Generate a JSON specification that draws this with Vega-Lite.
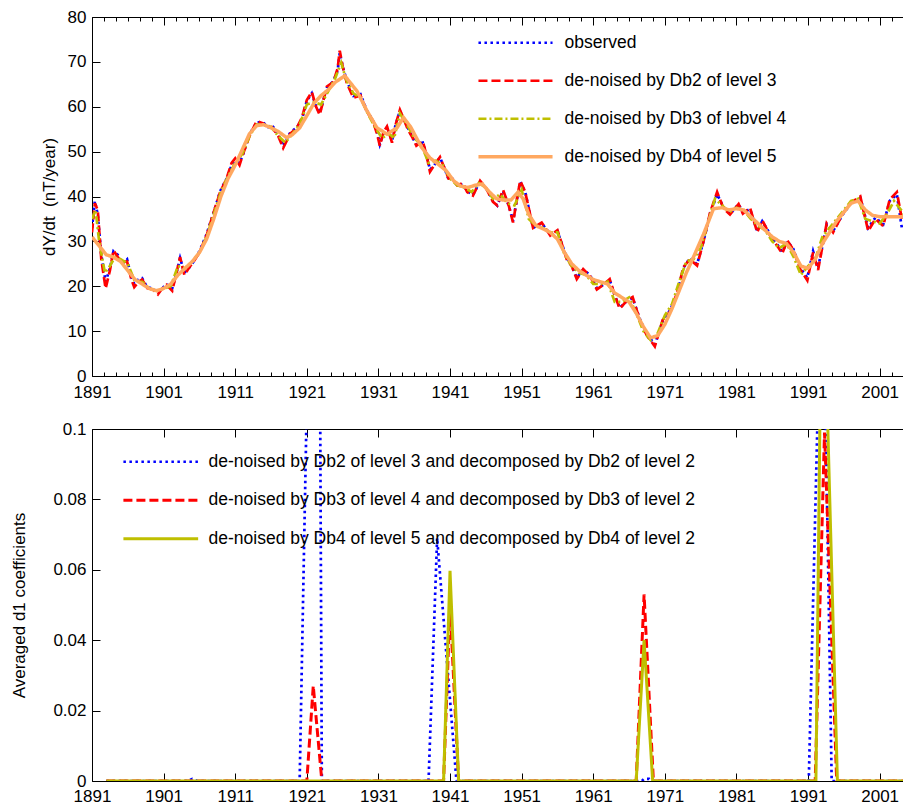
{
"$schema": "https://vega.github.io/schema/vega-lite/v6.json",
"background": "white",
"padding": {"left": 10, "top": 7, "right": 0, "bottom": 0},
"spacing": 14,
"config": {
  "view": {"stroke": "black", "strokeWidth": 1},
  "axis": {"labelFont": "Liberation Sans", "labelFontSize": 17, "titleFont": "Liberation Sans", "titleFontSize": 17, "titleFontWeight": "normal", "labelColor": "black", "titleColor": "black", "tickColor": "black", "domain": false, "grid": false},
  "legend": {"labelFont": "Liberation Sans", "labelFontSize": 17.5, "labelColor": "black", "labelLimit": 900}
},
"datasets": {
"top": [
{"s":"observed","year":1891.0,"v":33},{"s":"observed","year":1891.4,"v":39},{"s":"observed","year":1891.8,"v":36},{"s":"observed","year":1892.3,"v":27},{"s":"observed","year":1892.9,"v":21},{"s":"observed","year":1893.5,"v":24},{"s":"observed","year":1894.0,"v":27.8},{"s":"observed","year":1894.6,"v":27},{"s":"observed","year":1895.2,"v":25},{"s":"observed","year":1895.9,"v":26},{"s":"observed","year":1896.5,"v":22},{"s":"observed","year":1896.9,"v":20.5},{"s":"observed","year":1897.5,"v":21.5},{"s":"observed","year":1898.0,"v":21.8},{"s":"observed","year":1898.7,"v":19.8},{"s":"observed","year":1899.5,"v":19.5},{"s":"observed","year":1900.2,"v":18.5},{"s":"observed","year":1900.8,"v":19.5},{"s":"observed","year":1901.4,"v":20.5},{"s":"observed","year":1902.2,"v":19.5},{"s":"observed","year":1902.8,"v":23},{"s":"observed","year":1903.3,"v":26.3},{"s":"observed","year":1903.9,"v":23},{"s":"observed","year":1904.5,"v":24},{"s":"observed","year":1905.2,"v":25.5},{"s":"observed","year":1906.0,"v":27.8},{"s":"observed","year":1907.0,"v":31.6},{"s":"observed","year":1907.9,"v":36},{"s":"observed","year":1908.9,"v":41.2},{"s":"observed","year":1909.8,"v":44},{"s":"observed","year":1910.5,"v":47},{"s":"observed","year":1911.0,"v":48},{"s":"observed","year":1911.6,"v":47.5},{"s":"observed","year":1912.1,"v":49.4},{"s":"observed","year":1913.0,"v":53.9},{"s":"observed","year":1914.0,"v":56.5},{"s":"observed","year":1914.9,"v":56.5},{"s":"observed","year":1915.6,"v":55.5},{"s":"observed","year":1916.1,"v":56},{"s":"observed","year":1917.0,"v":53.9},{"s":"observed","year":1917.7,"v":51.2},{"s":"observed","year":1918.7,"v":54.3},{"s":"observed","year":1919.6,"v":55.4},{"s":"observed","year":1920.3,"v":57},{"s":"observed","year":1921.0,"v":61.3},{"s":"observed","year":1921.7,"v":63},{"s":"observed","year":1922.3,"v":60},{"s":"observed","year":1922.8,"v":58.6},{"s":"observed","year":1923.8,"v":64.2},{"s":"observed","year":1924.7,"v":65.7},{"s":"observed","year":1925.3,"v":68},{"s":"observed","year":1925.6,"v":72},{"s":"observed","year":1926.0,"v":69},{"s":"observed","year":1926.6,"v":65.7},{"s":"observed","year":1927.5,"v":62.4},{"s":"observed","year":1928.5,"v":62.8},{"s":"observed","year":1929.4,"v":59.1},{"s":"observed","year":1930.2,"v":57},{"s":"observed","year":1930.8,"v":54.6},{"s":"observed","year":1931.2,"v":51.6},{"s":"observed","year":1931.7,"v":54},{"s":"observed","year":1932.2,"v":55.4},{"s":"observed","year":1932.9,"v":52.4},{"s":"observed","year":1933.4,"v":56},{"s":"observed","year":1934.0,"v":59.1},{"s":"observed","year":1934.6,"v":57},{"s":"observed","year":1935.1,"v":55.4},{"s":"observed","year":1935.8,"v":53},{"s":"observed","year":1936.3,"v":51.6},{"s":"observed","year":1937.2,"v":52},{"s":"observed","year":1937.7,"v":49.5},{"s":"observed","year":1938.2,"v":46},{"s":"observed","year":1938.8,"v":47},{"s":"observed","year":1939.6,"v":48.7},{"s":"observed","year":1940.3,"v":46},{"s":"observed","year":1940.8,"v":43.8},{"s":"observed","year":1941.3,"v":44},{"s":"observed","year":1942.0,"v":42.5},{"s":"observed","year":1942.8,"v":42.7},{"s":"observed","year":1943.4,"v":41.2},{"s":"observed","year":1944.2,"v":40.4},{"s":"observed","year":1945.2,"v":43.3},{"s":"observed","year":1946.0,"v":42},{"s":"observed","year":1947.0,"v":39},{"s":"observed","year":1947.6,"v":38},{"s":"observed","year":1948.4,"v":41.2},{"s":"observed","year":1949.2,"v":38},{"s":"observed","year":1949.8,"v":34.5},{"s":"observed","year":1950.3,"v":39},{"s":"observed","year":1950.8,"v":43.3},{"s":"observed","year":1951.5,"v":41},{"s":"observed","year":1952.6,"v":33},{"s":"observed","year":1953.8,"v":34},{"s":"observed","year":1955.0,"v":31.6},{"s":"observed","year":1956.0,"v":32.3},{"s":"observed","year":1957.3,"v":26.3},{"s":"observed","year":1958.0,"v":24.5},{"s":"observed","year":1958.7,"v":21.9},{"s":"observed","year":1959.6,"v":23.7},{"s":"observed","year":1960.5,"v":22.6},{"s":"observed","year":1961.5,"v":19.6},{"s":"observed","year":1962.4,"v":20.3},{"s":"observed","year":1963.3,"v":21.4},{"s":"observed","year":1964.0,"v":18},{"s":"observed","year":1964.7,"v":15.2},{"s":"observed","year":1965.7,"v":16.7},{"s":"observed","year":1966.5,"v":17.4},{"s":"observed","year":1967.6,"v":12.3},{"s":"observed","year":1968.5,"v":9.3},{"s":"observed","year":1969.6,"v":7},{"s":"observed","year":1970.7,"v":12.3},{"s":"observed","year":1971.7,"v":14.6},{"s":"observed","year":1972.7,"v":18.2},{"s":"observed","year":1973.6,"v":24.1},{"s":"observed","year":1974.5,"v":26.3},{"s":"observed","year":1975.5,"v":24.9},{"s":"observed","year":1976.4,"v":30},{"s":"observed","year":1977.3,"v":36},{"s":"observed","year":1978.3,"v":40.5},{"s":"observed","year":1979.2,"v":37.6},{"s":"observed","year":1980.1,"v":36.1},{"s":"observed","year":1981.3,"v":38.3},{"s":"observed","year":1981.9,"v":36.4},{"s":"observed","year":1982.9,"v":37.2},{"s":"observed","year":1983.9,"v":32.3},{"s":"observed","year":1984.6,"v":34.5},{"s":"observed","year":1985.7,"v":31.6},{"s":"observed","year":1986.7,"v":29.3},{"s":"observed","year":1987.4,"v":27.6},{"s":"observed","year":1988.1,"v":30},{"s":"observed","year":1988.9,"v":28.5},{"s":"observed","year":1989.9,"v":24.1},{"s":"observed","year":1990.9,"v":21.9},{"s":"observed","year":1991.7,"v":27.8},{"s":"observed","year":1992.4,"v":24.1},{"s":"observed","year":1993.6,"v":33.8},{"s":"observed","year":1994.5,"v":32.3},{"s":"observed","year":1995.9,"v":36.1},{"s":"observed","year":1996.9,"v":38.3},{"s":"observed","year":1998.3,"v":39.7},{"s":"observed","year":1999.4,"v":33},{"s":"observed","year":2000.4,"v":35.3},{"s":"observed","year":2001.5,"v":33.8},{"s":"observed","year":2002.4,"v":39},{"s":"observed","year":2003.4,"v":40.5},{"s":"observed","year":2004.1,"v":33},{"s":"observed","year":2004.4,"v":33},
{"s":"de-noised by Db2 of level 3","year":1891.0,"v":32},{"s":"de-noised by Db2 of level 3","year":1891.4,"v":38.5},{"s":"de-noised by Db2 of level 3","year":1891.8,"v":37},{"s":"de-noised by Db2 of level 3","year":1892.3,"v":26},{"s":"de-noised by Db2 of level 3","year":1892.9,"v":19.5},{"s":"de-noised by Db2 of level 3","year":1893.5,"v":23.5},{"s":"de-noised by Db2 of level 3","year":1894.0,"v":28},{"s":"de-noised by Db2 of level 3","year":1894.6,"v":26.5},{"s":"de-noised by Db2 of level 3","year":1895.2,"v":25.5},{"s":"de-noised by Db2 of level 3","year":1895.9,"v":25.5},{"s":"de-noised by Db2 of level 3","year":1896.5,"v":21.5},{"s":"de-noised by Db2 of level 3","year":1896.9,"v":19.8},{"s":"de-noised by Db2 of level 3","year":1897.5,"v":21},{"s":"de-noised by Db2 of level 3","year":1898.0,"v":21.5},{"s":"de-noised by Db2 of level 3","year":1898.7,"v":19.6},{"s":"de-noised by Db2 of level 3","year":1899.5,"v":19.3},{"s":"de-noised by Db2 of level 3","year":1900.2,"v":18.2},{"s":"de-noised by Db2 of level 3","year":1900.8,"v":19.5},{"s":"de-noised by Db2 of level 3","year":1901.4,"v":20.3},{"s":"de-noised by Db2 of level 3","year":1902.2,"v":19},{"s":"de-noised by Db2 of level 3","year":1902.8,"v":23},{"s":"de-noised by Db2 of level 3","year":1903.3,"v":26.5},{"s":"de-noised by Db2 of level 3","year":1903.9,"v":22.5},{"s":"de-noised by Db2 of level 3","year":1904.5,"v":24},{"s":"de-noised by Db2 of level 3","year":1905.2,"v":25.5},{"s":"de-noised by Db2 of level 3","year":1906.0,"v":27.5},{"s":"de-noised by Db2 of level 3","year":1907.0,"v":31.3},{"s":"de-noised by Db2 of level 3","year":1907.9,"v":36},{"s":"de-noised by Db2 of level 3","year":1908.9,"v":41},{"s":"de-noised by Db2 of level 3","year":1909.8,"v":44},{"s":"de-noised by Db2 of level 3","year":1910.5,"v":47.5},{"s":"de-noised by Db2 of level 3","year":1911.0,"v":48.5},{"s":"de-noised by Db2 of level 3","year":1911.6,"v":47},{"s":"de-noised by Db2 of level 3","year":1912.1,"v":49.5},{"s":"de-noised by Db2 of level 3","year":1913.0,"v":53.5},{"s":"de-noised by Db2 of level 3","year":1914.0,"v":56.8},{"s":"de-noised by Db2 of level 3","year":1914.9,"v":56.3},{"s":"de-noised by Db2 of level 3","year":1915.6,"v":55.3},{"s":"de-noised by Db2 of level 3","year":1916.1,"v":55.5},{"s":"de-noised by Db2 of level 3","year":1917.0,"v":53.5},{"s":"de-noised by Db2 of level 3","year":1917.7,"v":50.8},{"s":"de-noised by Db2 of level 3","year":1918.7,"v":54},{"s":"de-noised by Db2 of level 3","year":1919.6,"v":55.3},{"s":"de-noised by Db2 of level 3","year":1920.3,"v":57.5},{"s":"de-noised by Db2 of level 3","year":1921.0,"v":61.5},{"s":"de-noised by Db2 of level 3","year":1921.7,"v":63.3},{"s":"de-noised by Db2 of level 3","year":1922.3,"v":60},{"s":"de-noised by Db2 of level 3","year":1922.8,"v":58.2},{"s":"de-noised by Db2 of level 3","year":1923.8,"v":64.5},{"s":"de-noised by Db2 of level 3","year":1924.7,"v":65.5},{"s":"de-noised by Db2 of level 3","year":1925.3,"v":68.5},{"s":"de-noised by Db2 of level 3","year":1925.6,"v":72.5},{"s":"de-noised by Db2 of level 3","year":1926.0,"v":69},{"s":"de-noised by Db2 of level 3","year":1926.6,"v":65.2},{"s":"de-noised by Db2 of level 3","year":1927.5,"v":62},{"s":"de-noised by Db2 of level 3","year":1928.5,"v":62.5},{"s":"de-noised by Db2 of level 3","year":1929.4,"v":58.8},{"s":"de-noised by Db2 of level 3","year":1930.2,"v":57},{"s":"de-noised by Db2 of level 3","year":1930.8,"v":54},{"s":"de-noised by Db2 of level 3","year":1931.2,"v":51.3},{"s":"de-noised by Db2 of level 3","year":1931.7,"v":54.3},{"s":"de-noised by Db2 of level 3","year":1932.2,"v":55.6},{"s":"de-noised by Db2 of level 3","year":1932.9,"v":52},{"s":"de-noised by Db2 of level 3","year":1933.4,"v":56},{"s":"de-noised by Db2 of level 3","year":1934.0,"v":59.3},{"s":"de-noised by Db2 of level 3","year":1934.6,"v":57},{"s":"de-noised by Db2 of level 3","year":1935.1,"v":55},{"s":"de-noised by Db2 of level 3","year":1935.8,"v":53},{"s":"de-noised by Db2 of level 3","year":1936.3,"v":51.3},{"s":"de-noised by Db2 of level 3","year":1937.2,"v":52.3},{"s":"de-noised by Db2 of level 3","year":1937.7,"v":49.3},{"s":"de-noised by Db2 of level 3","year":1938.2,"v":45.5},{"s":"de-noised by Db2 of level 3","year":1938.8,"v":47},{"s":"de-noised by Db2 of level 3","year":1939.6,"v":48.8},{"s":"de-noised by Db2 of level 3","year":1940.3,"v":46},{"s":"de-noised by Db2 of level 3","year":1940.8,"v":44},{"s":"de-noised by Db2 of level 3","year":1941.3,"v":44},{"s":"de-noised by Db2 of level 3","year":1942.0,"v":42.5},{"s":"de-noised by Db2 of level 3","year":1942.8,"v":43},{"s":"de-noised by Db2 of level 3","year":1943.4,"v":41},{"s":"de-noised by Db2 of level 3","year":1944.2,"v":40.2},{"s":"de-noised by Db2 of level 3","year":1945.2,"v":43.5},{"s":"de-noised by Db2 of level 3","year":1946.0,"v":42},{"s":"de-noised by Db2 of level 3","year":1947.0,"v":38.8},{"s":"de-noised by Db2 of level 3","year":1947.6,"v":38},{"s":"de-noised by Db2 of level 3","year":1948.4,"v":41.5},{"s":"de-noised by Db2 of level 3","year":1949.2,"v":38},{"s":"de-noised by Db2 of level 3","year":1949.8,"v":34.2},{"s":"de-noised by Db2 of level 3","year":1950.3,"v":39},{"s":"de-noised by Db2 of level 3","year":1950.8,"v":43.5},{"s":"de-noised by Db2 of level 3","year":1951.5,"v":41},{"s":"de-noised by Db2 of level 3","year":1952.6,"v":33},{"s":"de-noised by Db2 of level 3","year":1953.8,"v":34.2},{"s":"de-noised by Db2 of level 3","year":1955.0,"v":31.3},{"s":"de-noised by Db2 of level 3","year":1956.0,"v":32.5},{"s":"de-noised by Db2 of level 3","year":1957.3,"v":26},{"s":"de-noised by Db2 of level 3","year":1958.0,"v":24.5},{"s":"de-noised by Db2 of level 3","year":1958.7,"v":21.6},{"s":"de-noised by Db2 of level 3","year":1959.6,"v":23.8},{"s":"de-noised by Db2 of level 3","year":1960.5,"v":22.4},{"s":"de-noised by Db2 of level 3","year":1961.5,"v":19.3},{"s":"de-noised by Db2 of level 3","year":1962.4,"v":20.3},{"s":"de-noised by Db2 of level 3","year":1963.3,"v":21.6},{"s":"de-noised by Db2 of level 3","year":1964.0,"v":18},{"s":"de-noised by Db2 of level 3","year":1964.7,"v":15},{"s":"de-noised by Db2 of level 3","year":1965.7,"v":16.8},{"s":"de-noised by Db2 of level 3","year":1966.5,"v":17.6},{"s":"de-noised by Db2 of level 3","year":1967.6,"v":12},{"s":"de-noised by Db2 of level 3","year":1968.5,"v":9},{"s":"de-noised by Db2 of level 3","year":1969.6,"v":6.6},{"s":"de-noised by Db2 of level 3","year":1970.7,"v":12.5},{"s":"de-noised by Db2 of level 3","year":1971.7,"v":14.3},{"s":"de-noised by Db2 of level 3","year":1972.7,"v":18.5},{"s":"de-noised by Db2 of level 3","year":1973.6,"v":24.3},{"s":"de-noised by Db2 of level 3","year":1974.5,"v":26},{"s":"de-noised by Db2 of level 3","year":1975.5,"v":24.6},{"s":"de-noised by Db2 of level 3","year":1976.4,"v":30},{"s":"de-noised by Db2 of level 3","year":1977.3,"v":36.3},{"s":"de-noised by Db2 of level 3","year":1978.3,"v":41},{"s":"de-noised by Db2 of level 3","year":1979.2,"v":37.3},{"s":"de-noised by Db2 of level 3","year":1980.1,"v":36},{"s":"de-noised by Db2 of level 3","year":1981.3,"v":38.3},{"s":"de-noised by Db2 of level 3","year":1981.9,"v":36.2},{"s":"de-noised by Db2 of level 3","year":1982.9,"v":37.5},{"s":"de-noised by Db2 of level 3","year":1983.9,"v":32},{"s":"de-noised by Db2 of level 3","year":1984.6,"v":34.7},{"s":"de-noised by Db2 of level 3","year":1985.7,"v":31.3},{"s":"de-noised by Db2 of level 3","year":1986.7,"v":29},{"s":"de-noised by Db2 of level 3","year":1987.4,"v":27.3},{"s":"de-noised by Db2 of level 3","year":1988.1,"v":30.2},{"s":"de-noised by Db2 of level 3","year":1988.9,"v":28.3},{"s":"de-noised by Db2 of level 3","year":1989.9,"v":23.8},{"s":"de-noised by Db2 of level 3","year":1990.9,"v":21.3},{"s":"de-noised by Db2 of level 3","year":1991.7,"v":27.5},{"s":"de-noised by Db2 of level 3","year":1992.4,"v":23.6},{"s":"de-noised by Db2 of level 3","year":1993.6,"v":34},{"s":"de-noised by Db2 of level 3","year":1994.5,"v":32},{"s":"de-noised by Db2 of level 3","year":1995.9,"v":36.3},{"s":"de-noised by Db2 of level 3","year":1996.9,"v":38.5},{"s":"de-noised by Db2 of level 3","year":1998.3,"v":40},{"s":"de-noised by Db2 of level 3","year":1999.4,"v":32.3},{"s":"de-noised by Db2 of level 3","year":2000.4,"v":35},{"s":"de-noised by Db2 of level 3","year":2001.5,"v":33.4},{"s":"de-noised by Db2 of level 3","year":2002.4,"v":39.3},{"s":"de-noised by Db2 of level 3","year":2003.4,"v":41},{"s":"de-noised by Db2 of level 3","year":2004.1,"v":35},{"s":"de-noised by Db2 of level 3","year":2004.4,"v":34.5},
{"s":"de-noised by Db3 of lebvel 4","year":1891,"v":35},{"s":"de-noised by Db3 of lebvel 4","year":1891.5,"v":37},{"s":"de-noised by Db3 of lebvel 4","year":1892,"v":30},{"s":"de-noised by Db3 of lebvel 4","year":1892.8,"v":23},{"s":"de-noised by Db3 of lebvel 4","year":1893.5,"v":24.5},{"s":"de-noised by Db3 of lebvel 4","year":1894.2,"v":26.5},{"s":"de-noised by Db3 of lebvel 4","year":1895,"v":26},{"s":"de-noised by Db3 of lebvel 4","year":1896,"v":25},{"s":"de-noised by Db3 of lebvel 4","year":1897,"v":21},{"s":"de-noised by Db3 of lebvel 4","year":1898,"v":21},{"s":"de-noised by Db3 of lebvel 4","year":1899,"v":19.5},{"s":"de-noised by Db3 of lebvel 4","year":1900,"v":19},{"s":"de-noised by Db3 of lebvel 4","year":1901,"v":19.5},{"s":"de-noised by Db3 of lebvel 4","year":1902,"v":20},{"s":"de-noised by Db3 of lebvel 4","year":1903,"v":24.5},{"s":"de-noised by Db3 of lebvel 4","year":1904,"v":24},{"s":"de-noised by Db3 of lebvel 4","year":1905,"v":25.5},{"s":"de-noised by Db3 of lebvel 4","year":1906,"v":27.5},{"s":"de-noised by Db3 of lebvel 4","year":1907,"v":31},{"s":"de-noised by Db3 of lebvel 4","year":1908,"v":36},{"s":"de-noised by Db3 of lebvel 4","year":1909,"v":41},{"s":"de-noised by Db3 of lebvel 4","year":1910,"v":44.5},{"s":"de-noised by Db3 of lebvel 4","year":1911,"v":47.5},{"s":"de-noised by Db3 of lebvel 4","year":1912,"v":49.5},{"s":"de-noised by Db3 of lebvel 4","year":1913,"v":53.5},{"s":"de-noised by Db3 of lebvel 4","year":1914,"v":56},{"s":"de-noised by Db3 of lebvel 4","year":1915,"v":56},{"s":"de-noised by Db3 of lebvel 4","year":1916,"v":55.5},{"s":"de-noised by Db3 of lebvel 4","year":1917,"v":53.5},{"s":"de-noised by Db3 of lebvel 4","year":1918,"v":52},{"s":"de-noised by Db3 of lebvel 4","year":1919,"v":54},{"s":"de-noised by Db3 of lebvel 4","year":1920,"v":56},{"s":"de-noised by Db3 of lebvel 4","year":1921,"v":60.5},{"s":"de-noised by Db3 of lebvel 4","year":1922,"v":61},{"s":"de-noised by Db3 of lebvel 4","year":1923,"v":60.5},{"s":"de-noised by Db3 of lebvel 4","year":1924,"v":63.5},{"s":"de-noised by Db3 of lebvel 4","year":1925,"v":66.5},{"s":"de-noised by Db3 of lebvel 4","year":1925.8,"v":69.8},{"s":"de-noised by Db3 of lebvel 4","year":1926.5,"v":66},{"s":"de-noised by Db3 of lebvel 4","year":1927.5,"v":63},{"s":"de-noised by Db3 of lebvel 4","year":1928.5,"v":62},{"s":"de-noised by Db3 of lebvel 4","year":1929.5,"v":58.5},{"s":"de-noised by Db3 of lebvel 4","year":1930.5,"v":55.5},{"s":"de-noised by Db3 of lebvel 4","year":1931.5,"v":53},{"s":"de-noised by Db3 of lebvel 4","year":1932.5,"v":54},{"s":"de-noised by Db3 of lebvel 4","year":1933.2,"v":53},{"s":"de-noised by Db3 of lebvel 4","year":1934,"v":58.5},{"s":"de-noised by Db3 of lebvel 4","year":1935,"v":56},{"s":"de-noised by Db3 of lebvel 4","year":1936,"v":53},{"s":"de-noised by Db3 of lebvel 4","year":1937,"v":51.5},{"s":"de-noised by Db3 of lebvel 4","year":1938,"v":47.5},{"s":"de-noised by Db3 of lebvel 4","year":1939,"v":48},{"s":"de-noised by Db3 of lebvel 4","year":1940,"v":47},{"s":"de-noised by Db3 of lebvel 4","year":1941,"v":44},{"s":"de-noised by Db3 of lebvel 4","year":1942,"v":42.5},{"s":"de-noised by Db3 of lebvel 4","year":1943,"v":42},{"s":"de-noised by Db3 of lebvel 4","year":1944,"v":41},{"s":"de-noised by Db3 of lebvel 4","year":1945,"v":43},{"s":"de-noised by Db3 of lebvel 4","year":1946,"v":42},{"s":"de-noised by Db3 of lebvel 4","year":1947,"v":39.5},{"s":"de-noised by Db3 of lebvel 4","year":1948,"v":40.5},{"s":"de-noised by Db3 of lebvel 4","year":1949,"v":38.5},{"s":"de-noised by Db3 of lebvel 4","year":1950,"v":38},{"s":"de-noised by Db3 of lebvel 4","year":1951,"v":41.5},{"s":"de-noised by Db3 of lebvel 4","year":1952,"v":35},{"s":"de-noised by Db3 of lebvel 4","year":1953,"v":33.5},{"s":"de-noised by Db3 of lebvel 4","year":1954,"v":33},{"s":"de-noised by Db3 of lebvel 4","year":1955,"v":32},{"s":"de-noised by Db3 of lebvel 4","year":1956,"v":32},{"s":"de-noised by Db3 of lebvel 4","year":1957,"v":27},{"s":"de-noised by Db3 of lebvel 4","year":1958,"v":24.5},{"s":"de-noised by Db3 of lebvel 4","year":1959,"v":23},{"s":"de-noised by Db3 of lebvel 4","year":1960,"v":22.5},{"s":"de-noised by Db3 of lebvel 4","year":1961,"v":20.5},{"s":"de-noised by Db3 of lebvel 4","year":1962,"v":20.5},{"s":"de-noised by Db3 of lebvel 4","year":1963,"v":21},{"s":"de-noised by Db3 of lebvel 4","year":1964,"v":16.5},{"s":"de-noised by Db3 of lebvel 4","year":1965,"v":16.5},{"s":"de-noised by Db3 of lebvel 4","year":1966,"v":17.5},{"s":"de-noised by Db3 of lebvel 4","year":1967,"v":14},{"s":"de-noised by Db3 of lebvel 4","year":1968,"v":10},{"s":"de-noised by Db3 of lebvel 4","year":1969,"v":8},{"s":"de-noised by Db3 of lebvel 4","year":1970,"v":9.5},{"s":"de-noised by Db3 of lebvel 4","year":1971,"v":13.5},{"s":"de-noised by Db3 of lebvel 4","year":1972,"v":16},{"s":"de-noised by Db3 of lebvel 4","year":1973,"v":21},{"s":"de-noised by Db3 of lebvel 4","year":1974,"v":25.5},{"s":"de-noised by Db3 of lebvel 4","year":1975,"v":26},{"s":"de-noised by Db3 of lebvel 4","year":1976,"v":28.5},{"s":"de-noised by Db3 of lebvel 4","year":1977,"v":34},{"s":"de-noised by Db3 of lebvel 4","year":1978,"v":39.5},{"s":"de-noised by Db3 of lebvel 4","year":1979,"v":38},{"s":"de-noised by Db3 of lebvel 4","year":1980,"v":36.5},{"s":"de-noised by Db3 of lebvel 4","year":1981,"v":37.5},{"s":"de-noised by Db3 of lebvel 4","year":1982,"v":37},{"s":"de-noised by Db3 of lebvel 4","year":1983,"v":35},{"s":"de-noised by Db3 of lebvel 4","year":1984,"v":33.5},{"s":"de-noised by Db3 of lebvel 4","year":1985,"v":32.5},{"s":"de-noised by Db3 of lebvel 4","year":1986,"v":30},{"s":"de-noised by Db3 of lebvel 4","year":1987,"v":28.5},{"s":"de-noised by Db3 of lebvel 4","year":1988,"v":29.5},{"s":"de-noised by Db3 of lebvel 4","year":1989,"v":26.5},{"s":"de-noised by Db3 of lebvel 4","year":1990,"v":22.5},{"s":"de-noised by Db3 of lebvel 4","year":1991,"v":24.5},{"s":"de-noised by Db3 of lebvel 4","year":1992,"v":26},{"s":"de-noised by Db3 of lebvel 4","year":1993,"v":31},{"s":"de-noised by Db3 of lebvel 4","year":1994,"v":33},{"s":"de-noised by Db3 of lebvel 4","year":1995,"v":35},{"s":"de-noised by Db3 of lebvel 4","year":1996,"v":37},{"s":"de-noised by Db3 of lebvel 4","year":1997,"v":39},{"s":"de-noised by Db3 of lebvel 4","year":1998,"v":39.5},{"s":"de-noised by Db3 of lebvel 4","year":1999,"v":35},{"s":"de-noised by Db3 of lebvel 4","year":2000,"v":34.5},{"s":"de-noised by Db3 of lebvel 4","year":2001,"v":34},{"s":"de-noised by Db3 of lebvel 4","year":2002,"v":36},{"s":"de-noised by Db3 of lebvel 4","year":2003,"v":39},{"s":"de-noised by Db3 of lebvel 4","year":2004,"v":37},{"s":"de-noised by Db3 of lebvel 4","year":2004.4,"v":36},
{"s":"de-noised by Db4 of level 5","year":1891,"v":31},{"s":"de-noised by Db4 of level 5","year":1892,"v":29},{"s":"de-noised by Db4 of level 5","year":1893,"v":27},{"s":"de-noised by Db4 of level 5","year":1894,"v":26.5},{"s":"de-noised by Db4 of level 5","year":1895,"v":25.5},{"s":"de-noised by Db4 of level 5","year":1896,"v":23.5},{"s":"de-noised by Db4 of level 5","year":1897,"v":21.5},{"s":"de-noised by Db4 of level 5","year":1898,"v":20.5},{"s":"de-noised by Db4 of level 5","year":1899,"v":19.5},{"s":"de-noised by Db4 of level 5","year":1900,"v":19},{"s":"de-noised by Db4 of level 5","year":1901,"v":19.5},{"s":"de-noised by Db4 of level 5","year":1902,"v":20.5},{"s":"de-noised by Db4 of level 5","year":1903,"v":22.5},{"s":"de-noised by Db4 of level 5","year":1904,"v":24},{"s":"de-noised by Db4 of level 5","year":1905,"v":25.5},{"s":"de-noised by Db4 of level 5","year":1906,"v":27.5},{"s":"de-noised by Db4 of level 5","year":1907,"v":30.5},{"s":"de-noised by Db4 of level 5","year":1908,"v":35},{"s":"de-noised by Db4 of level 5","year":1909,"v":40},{"s":"de-noised by Db4 of level 5","year":1910,"v":44},{"s":"de-noised by Db4 of level 5","year":1911,"v":47},{"s":"de-noised by Db4 of level 5","year":1912,"v":50.5},{"s":"de-noised by Db4 of level 5","year":1913,"v":54},{"s":"de-noised by Db4 of level 5","year":1914,"v":55.8},{"s":"de-noised by Db4 of level 5","year":1915,"v":56},{"s":"de-noised by Db4 of level 5","year":1916,"v":55.3},{"s":"de-noised by Db4 of level 5","year":1917,"v":54.5},{"s":"de-noised by Db4 of level 5","year":1918.2,"v":53.1},{"s":"de-noised by Db4 of level 5","year":1919,"v":53.8},{"s":"de-noised by Db4 of level 5","year":1920,"v":55.3},{"s":"de-noised by Db4 of level 5","year":1921,"v":58},{"s":"de-noised by Db4 of level 5","year":1922,"v":60.8},{"s":"de-noised by Db4 of level 5","year":1923,"v":62.5},{"s":"de-noised by Db4 of level 5","year":1924,"v":63.8},{"s":"de-noised by Db4 of level 5","year":1925,"v":65.5},{"s":"de-noised by Db4 of level 5","year":1926.3,"v":66.9},{"s":"de-noised by Db4 of level 5","year":1927,"v":65.5},{"s":"de-noised by Db4 of level 5","year":1928,"v":63.5},{"s":"de-noised by Db4 of level 5","year":1929.4,"v":59.1},{"s":"de-noised by Db4 of level 5","year":1930.8,"v":55.3},{"s":"de-noised by Db4 of level 5","year":1932.2,"v":53.9},{"s":"de-noised by Db4 of level 5","year":1933.6,"v":55.3},{"s":"de-noised by Db4 of level 5","year":1934.5,"v":57.6},{"s":"de-noised by Db4 of level 5","year":1935.5,"v":55.5},{"s":"de-noised by Db4 of level 5","year":1936.3,"v":53.1},{"s":"de-noised by Db4 of level 5","year":1937,"v":51},{"s":"de-noised by Db4 of level 5","year":1938.2,"v":48.6},{"s":"de-noised by Db4 of level 5","year":1939.5,"v":47},{"s":"de-noised by Db4 of level 5","year":1940.5,"v":45.7},{"s":"de-noised by Db4 of level 5","year":1941.5,"v":43.5},{"s":"de-noised by Db4 of level 5","year":1942.5,"v":42.3},{"s":"de-noised by Db4 of level 5","year":1943.5,"v":42},{"s":"de-noised by Db4 of level 5","year":1944.5,"v":42.5},{"s":"de-noised by Db4 of level 5","year":1945.5,"v":42.8},{"s":"de-noised by Db4 of level 5","year":1946.5,"v":41},{"s":"de-noised by Db4 of level 5","year":1947.5,"v":39.5},{"s":"de-noised by Db4 of level 5","year":1948.5,"v":39.2},{"s":"de-noised by Db4 of level 5","year":1949.5,"v":39.2},{"s":"de-noised by Db4 of level 5","year":1950.5,"v":41},{"s":"de-noised by Db4 of level 5","year":1951.2,"v":39.5},{"s":"de-noised by Db4 of level 5","year":1952,"v":36},{"s":"de-noised by Db4 of level 5","year":1953,"v":33.5},{"s":"de-noised by Db4 of level 5","year":1954,"v":32.8},{"s":"de-noised by Db4 of level 5","year":1955,"v":32},{"s":"de-noised by Db4 of level 5","year":1956,"v":30.5},{"s":"de-noised by Db4 of level 5","year":1957,"v":27.5},{"s":"de-noised by Db4 of level 5","year":1958,"v":25},{"s":"de-noised by Db4 of level 5","year":1959,"v":23.5},{"s":"de-noised by Db4 of level 5","year":1960,"v":22.5},{"s":"de-noised by Db4 of level 5","year":1961,"v":21.5},{"s":"de-noised by Db4 of level 5","year":1962,"v":21},{"s":"de-noised by Db4 of level 5","year":1963,"v":20.5},{"s":"de-noised by Db4 of level 5","year":1964,"v":18.5},{"s":"de-noised by Db4 of level 5","year":1965,"v":17.5},{"s":"de-noised by Db4 of level 5","year":1966,"v":16.5},{"s":"de-noised by Db4 of level 5","year":1967,"v":14},{"s":"de-noised by Db4 of level 5","year":1968,"v":11},{"s":"de-noised by Db4 of level 5","year":1969,"v":8.5},{"s":"de-noised by Db4 of level 5","year":1970,"v":9},{"s":"de-noised by Db4 of level 5","year":1971,"v":11.5},{"s":"de-noised by Db4 of level 5","year":1972,"v":15},{"s":"de-noised by Db4 of level 5","year":1973,"v":19},{"s":"de-noised by Db4 of level 5","year":1974,"v":23},{"s":"de-noised by Db4 of level 5","year":1975,"v":26.5},{"s":"de-noised by Db4 of level 5","year":1976.4,"v":31.6},{"s":"de-noised by Db4 of level 5","year":1977.8,"v":37.3},{"s":"de-noised by Db4 of level 5","year":1979,"v":37.5},{"s":"de-noised by Db4 of level 5","year":1980,"v":37},{"s":"de-noised by Db4 of level 5","year":1981,"v":37.3},{"s":"de-noised by Db4 of level 5","year":1982,"v":37},{"s":"de-noised by Db4 of level 5","year":1983,"v":35.5},{"s":"de-noised by Db4 of level 5","year":1984,"v":34},{"s":"de-noised by Db4 of level 5","year":1985,"v":32.5},{"s":"de-noised by Db4 of level 5","year":1986,"v":31},{"s":"de-noised by Db4 of level 5","year":1987,"v":30},{"s":"de-noised by Db4 of level 5","year":1988,"v":29.5},{"s":"de-noised by Db4 of level 5","year":1989,"v":27.5},{"s":"de-noised by Db4 of level 5","year":1990,"v":24.5},{"s":"de-noised by Db4 of level 5","year":1991,"v":24},{"s":"de-noised by Db4 of level 5","year":1992,"v":26},{"s":"de-noised by Db4 of level 5","year":1993,"v":29.5},{"s":"de-noised by Db4 of level 5","year":1994,"v":32},{"s":"de-noised by Db4 of level 5","year":1995,"v":34.5},{"s":"de-noised by Db4 of level 5","year":1996,"v":36.5},{"s":"de-noised by Db4 of level 5","year":1997,"v":38.5},{"s":"de-noised by Db4 of level 5","year":1998,"v":39},{"s":"de-noised by Db4 of level 5","year":1999,"v":37},{"s":"de-noised by Db4 of level 5","year":2000,"v":35.8},{"s":"de-noised by Db4 of level 5","year":2001,"v":35.5},{"s":"de-noised by Db4 of level 5","year":2002,"v":35.5},{"s":"de-noised by Db4 of level 5","year":2003,"v":35.5},{"s":"de-noised by Db4 of level 5","year":2004.4,"v":35.5}
],
"bot": [
{"s":"de-noised by Db2 of level 3 and decomposed by Db2 of level 2","year":1893,"v":0},{"s":"de-noised by Db2 of level 3 and decomposed by Db2 of level 2","year":1904.4,"v":0},{"s":"de-noised by Db2 of level 3 and decomposed by Db2 of level 2","year":1905,"v":0.0006},{"s":"de-noised by Db2 of level 3 and decomposed by Db2 of level 2","year":1905.7,"v":0},{"s":"de-noised by Db2 of level 3 and decomposed by Db2 of level 2","year":1920.0,"v":0},{"s":"de-noised by Db2 of level 3 and decomposed by Db2 of level 2","year":1922.5,"v":0.27},{"s":"de-noised by Db2 of level 3 and decomposed by Db2 of level 2","year":1923.1,"v":0},{"s":"de-noised by Db2 of level 3 and decomposed by Db2 of level 2","year":1938.0,"v":0},{"s":"de-noised by Db2 of level 3 and decomposed by Db2 of level 2","year":1939.2,"v":0.069},{"s":"de-noised by Db2 of level 3 and decomposed by Db2 of level 2","year":1941.9,"v":0},{"s":"de-noised by Db2 of level 3 and decomposed by Db2 of level 2","year":1967.8,"v":0},{"s":"de-noised by Db2 of level 3 and decomposed by Db2 of level 2","year":1968.1,"v":0.0006},{"s":"de-noised by Db2 of level 3 and decomposed by Db2 of level 2","year":1968.8,"v":0.0006},{"s":"de-noised by Db2 of level 3 and decomposed by Db2 of level 2","year":1969.1,"v":0},{"s":"de-noised by Db2 of level 3 and decomposed by Db2 of level 2","year":1991.1,"v":0},{"s":"de-noised by Db2 of level 3 and decomposed by Db2 of level 2","year":1993.0,"v":0.16},{"s":"de-noised by Db2 of level 3 and decomposed by Db2 of level 2","year":1994.3,"v":0},{"s":"de-noised by Db2 of level 3 and decomposed by Db2 of level 2","year":2004.4,"v":0},
{"s":"de-noised by Db3 of level 4 and decomposed by Db3 of level 2","year":1893,"v":0},{"s":"de-noised by Db3 of level 4 and decomposed by Db3 of level 2","year":1921.0,"v":0},{"s":"de-noised by Db3 of level 4 and decomposed by Db3 of level 2","year":1921.9,"v":0.027},{"s":"de-noised by Db3 of level 4 and decomposed by Db3 of level 2","year":1923.1,"v":0},{"s":"de-noised by Db3 of level 4 and decomposed by Db3 of level 2","year":1940.1,"v":0},{"s":"de-noised by Db3 of level 4 and decomposed by Db3 of level 2","year":1941.0,"v":0.05},{"s":"de-noised by Db3 of level 4 and decomposed by Db3 of level 2","year":1942.2,"v":0},{"s":"de-noised by Db3 of level 4 and decomposed by Db3 of level 2","year":1967.0,"v":0},{"s":"de-noised by Db3 of level 4 and decomposed by Db3 of level 2","year":1968.1,"v":0.053},{"s":"de-noised by Db3 of level 4 and decomposed by Db3 of level 2","year":1969.4,"v":0},{"s":"de-noised by Db3 of level 4 and decomposed by Db3 of level 2","year":1992.0,"v":0},{"s":"de-noised by Db3 of level 4 and decomposed by Db3 of level 2","year":1993.3,"v":0.099},{"s":"de-noised by Db3 of level 4 and decomposed by Db3 of level 2","year":1995.0,"v":0},{"s":"de-noised by Db3 of level 4 and decomposed by Db3 of level 2","year":2004.4,"v":0},
{"s":"de-noised by Db4 of level 5 and decomposed by Db4 of level 2","year":1893,"v":0},{"s":"de-noised by Db4 of level 5 and decomposed by Db4 of level 2","year":1940.1,"v":0},{"s":"de-noised by Db4 of level 5 and decomposed by Db4 of level 2","year":1941.0,"v":0.0597},{"s":"de-noised by Db4 of level 5 and decomposed by Db4 of level 2","year":1942.2,"v":0},{"s":"de-noised by Db4 of level 5 and decomposed by Db4 of level 2","year":1967.0,"v":0},{"s":"de-noised by Db4 of level 5 and decomposed by Db4 of level 2","year":1968.1,"v":0.04},{"s":"de-noised by Db4 of level 5 and decomposed by Db4 of level 2","year":1969.3,"v":0},{"s":"de-noised by Db4 of level 5 and decomposed by Db4 of level 2","year":1992.1,"v":0},{"s":"de-noised by Db4 of level 5 and decomposed by Db4 of level 2","year":1992.7,"v":0.11},{"s":"de-noised by Db4 of level 5 and decomposed by Db4 of level 2","year":1993.5,"v":0.12},{"s":"de-noised by Db4 of level 5 and decomposed by Db4 of level 2","year":1995.1,"v":0},{"s":"de-noised by Db4 of level 5 and decomposed by Db4 of level 2","year":2004.4,"v":0}
]
},
"vconcat": [
{
  "width": 812, "height": 359,
  "layer": [
    {
      "data": {"name": "top"},
      "mark": {"type": "line", "clip": true},
      "encoding": {
        "x": {"field": "year", "type": "quantitative", "scale": {"domain": [1891, 2004.4], "nice": false, "zero": false},
              "axis": {"orient": "bottom", "title": null, "values": [1891,1892.667,1894.333,1896,1897.667,1899.333,1901,1902.667,1904.333,1906,1907.667,1909.333,1911,1912.667,1914.333,1916,1917.667,1919.333,1921,1922.667,1924.333,1926,1927.667,1929.333,1931,1932.667,1934.333,1936,1937.667,1939.333,1941,1942.667,1944.333,1946,1947.667,1949.333,1951,1952.667,1954.333,1956,1957.667,1959.333,1961,1962.667,1964.333,1966,1967.667,1969.333,1971,1972.667,1974.333,1976,1977.667,1979.333,1981,1982.667,1984.333,1986,1987.667,1989.333,1991,1992.667,1994.333,1996,1997.667,1999.333,2001,2002.667],
                       "labelExpr": "datum.value % 10 == 1 ? format(datum.value, 'd') : ''",
                       "tickSize": {"condition": {"test": "datum.value % 10 == 1", "value": -8}, "value": -4},
                       "labelPadding": 16, "labelFlush": false, "labelOverlap": false}},
        "y": {"field": "v", "type": "quantitative", "scale": {"domain": [0, 80], "nice": false},
              "axis": {"values": [0,10,20,30,40,50,60,70,80], "tickSize": -8, "labelPadding": 14, "title": "dY/dt\u00a0 (nT/year)", "titlePadding": 9}},
        "color": {"field": "s", "type": "nominal",
                  "scale": {"domain": ["observed","de-noised by Db2 of level 3","de-noised by Db3 of lebvel 4","de-noised by Db4 of level 5"], "range": ["#0000ff","#ff0000","#bfbf00","#ffa860"]},
                  "legend": {"title": null, "orient": "none", "legendX": 383, "legendY": 17, "symbolType": "M-1,0H13", "symbolSize": 112, "labelOffset": 72, "rowPadding": 19}},
        "strokeDash": {"field": "s", "type": "nominal",
                  "scale": {"domain": ["observed","de-noised by Db2 of level 3","de-noised by Db3 of lebvel 4","de-noised by Db4 of level 5"], "range": [[2.5,3.5],[9,4],[8,3,2,3],[1,0]]},
                  "legend": {"title": null, "orient": "none", "legendX": 383, "legendY": 17, "symbolType": "M-1,0H13", "symbolSize": 112, "labelOffset": 72, "rowPadding": 19}},
        "strokeWidth": {"field": "s", "type": "nominal",
                  "scale": {"type": "ordinal", "domain": ["observed","de-noised by Db2 of level 3","de-noised by Db3 of lebvel 4","de-noised by Db4 of level 5"], "range": [2.7,2.7,2.7,3.5]},
                  "legend": {"title": null, "orient": "none", "legendX": 383, "legendY": 17, "symbolType": "M-1,0H13", "symbolSize": 112, "labelOffset": 72, "rowPadding": 19}}
      }
    },
    {
      "data": {"name": "top"},
      "mark": {"type": "point", "opacity": 0},
      "encoding": {
        "x": {"field": "year", "type": "quantitative",
              "axis": {"orient": "top", "title": null, "labels": false, "values": [1891,1892.667,1894.333,1896,1897.667,1899.333,1901,1902.667,1904.333,1906,1907.667,1909.333,1911,1912.667,1914.333,1916,1917.667,1919.333,1921,1922.667,1924.333,1926,1927.667,1929.333,1931,1932.667,1934.333,1936,1937.667,1939.333,1941,1942.667,1944.333,1946,1947.667,1949.333,1951,1952.667,1954.333,1956,1957.667,1959.333,1961,1962.667,1964.333,1966,1967.667,1969.333,1971,1972.667,1974.333,1976,1977.667,1979.333,1981,1982.667,1984.333,1986,1987.667,1989.333,1991,1992.667,1994.333,1996,1997.667,1999.333,2001,2002.667],
                       "tickSize": {"condition": {"test": "datum.value % 10 == 1", "value": -8}, "value": -4}}}
      }
    }
  ],
  "resolve": {"axis": {"x": "independent"}}
},
{
  "width": 812, "height": 352,
  "layer": [
    {
      "data": {"name": "bot"},
      "mark": {"type": "line", "clip": true},
      "encoding": {
        "x": {"field": "year", "type": "quantitative", "scale": {"domain": [1891, 2004.4], "nice": false, "zero": false},
              "axis": {"orient": "bottom", "title": null, "values": [1891,1901,1911,1921,1931,1941,1951,1961,1971,1981,1991,2001], "format": "d", "tickSize": -8, "labelPadding": 15, "labelFlush": false, "labelOverlap": false}},
        "y": {"field": "v", "type": "quantitative", "scale": {"domain": [0, 0.1], "nice": false},
              "axis": {"values": [0,0.02,0.04,0.06,0.08,0.1], "format": ".2~f", "tickSize": -8, "labelPadding": 14, "title": "Averaged d1 coefficients", "titlePadding": 24}},
        "color": {"field": "s", "type": "nominal",
                  "scale": {"domain": ["de-noised by Db2 of level 3 and decomposed by Db2 of level 2","de-noised by Db3 of level 4 and decomposed by Db3 of level 2","de-noised by Db4 of level 5 and decomposed by Db4 of level 2"], "range": ["#0000ff","#ff0000","#bfbf00"]},
                  "legend": {"title": null, "orient": "none", "legendX": 28, "legendY": 24, "symbolType": "M-1,0H13", "symbolSize": 114, "labelOffset": 71, "rowPadding": 19.5}},
        "strokeDash": {"field": "s", "type": "nominal",
                  "scale": {"domain": ["de-noised by Db2 of level 3 and decomposed by Db2 of level 2","de-noised by Db3 of level 4 and decomposed by Db3 of level 2","de-noised by Db4 of level 5 and decomposed by Db4 of level 2"], "range": [[2.5,3.5],[9,4],[1,0]]},
                  "legend": {"title": null, "orient": "none", "legendX": 28, "legendY": 24, "symbolType": "M-1,0H13", "symbolSize": 114, "labelOffset": 71, "rowPadding": 19.5}},
        "strokeWidth": {"field": "s", "type": "nominal",
                  "scale": {"type": "ordinal", "domain": ["de-noised by Db2 of level 3 and decomposed by Db2 of level 2","de-noised by Db3 of level 4 and decomposed by Db3 of level 2","de-noised by Db4 of level 5 and decomposed by Db4 of level 2"], "range": [2.7,3,3]},
                  "legend": {"title": null, "orient": "none", "legendX": 28, "legendY": 24, "symbolType": "M-1,0H13", "symbolSize": 114, "labelOffset": 71, "rowPadding": 19.5}}
      }
    },
    {
      "data": {"name": "bot"},
      "mark": {"type": "point", "opacity": 0},
      "encoding": {
        "x": {"field": "year", "type": "quantitative",
              "axis": {"orient": "top", "title": null, "labels": false, "values": [1891,1901,1911,1921,1931,1941,1951,1961,1971,1981,1991,2001], "tickSize": -8}}
      }
    }
  ],
  "resolve": {"axis": {"x": "independent"}}
}
],
"resolve": {"scale": {"color": "independent", "strokeDash": "independent", "strokeWidth": "independent"}}
}
